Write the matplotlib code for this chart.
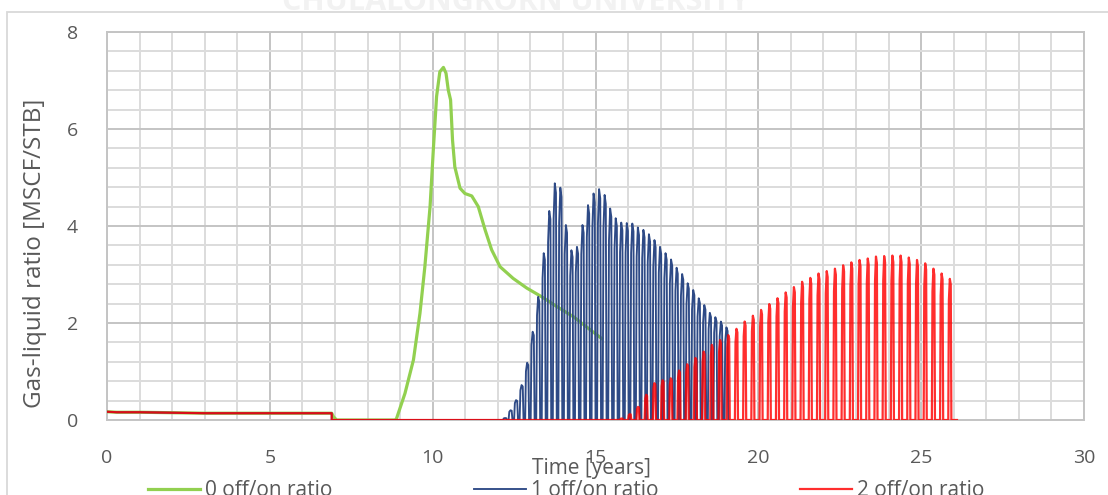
import numpy as np
import matplotlib.pyplot as plt
from matplotlib.patches import Rectangle
from matplotlib.ticker import MultipleLocator

plt.rcParams['font.family'] = ['Open Sans', 'DejaVu Sans']

# continuous production before cycling starts (same for all cases)
pre_t = [0.0, 0.3, 1.0, 2.0, 3.0, 4.0, 5.0, 6.0, 6.9]
pre_glr = [0.17, 0.16, 0.16, 0.15, 0.14, 0.14, 0.14, 0.14, 0.14]

# 0 off/on ratio (no shut-in)
cont_t = [6.95, 7.05, 8.85, 8.89, 9.15, 9.41, 9.61, 9.76, 9.92, 10.02, 10.12,
          10.22, 10.33, 10.41, 10.48, 10.55, 10.61, 10.68, 10.84, 10.99,
          11.20, 11.40, 11.61, 11.81, 12.07, 12.47, 12.89, 13.35, 13.81,
          14.32, 14.78, 15.19]
cont_glr = [0.07, 0.0, 0.0, 0.03, 0.55, 1.24, 2.20, 3.16, 4.40, 5.57, 6.67,
            7.18, 7.27, 7.15, 6.80, 6.60, 5.77, 5.22, 4.78, 4.67,
            4.62, 4.40, 3.92, 3.51, 3.16, 2.92, 2.72, 2.54, 2.34,
            2.13, 1.89, 1.68]

# 1 off/on ratio: peak GLR of every production cycle
r1_first = 12.22
r1_period = 0.17
r1_end = 19.1
r1_peaks = [0.04, 0.20, 0.41, 0.72, 1.18, 1.82, 2.54, 3.44, 4.31, 4.88,
            4.79, 4.02, 3.50, 3.57, 4.02, 4.43, 4.67, 4.76, 4.64, 4.36,
            4.16, 4.07, 4.06, 4.05, 3.97, 3.92, 3.83, 3.71, 3.57, 3.44,
            3.31, 3.14, 3.01, 2.82, 2.68, 2.51, 2.37, 2.21, 2.12, 2.03,
            1.91]

# 2 off/on ratio: peak GLR of every production cycle
r2_first = 15.80
r2_period = 0.252
r2_end = 26.1
r2_peaks = [0.03, 0.12, 0.27, 0.52, 0.76, 0.82, 0.86, 1.02, 1.15, 1.28,
            1.41, 1.55, 1.65, 1.75, 1.88, 2.03, 2.15, 2.27, 2.39, 2.51,
            2.63, 2.74, 2.85, 2.93, 3.02, 3.07, 3.12, 3.19, 3.25, 3.30,
            3.33, 3.37, 3.38, 3.39, 3.39, 3.35, 3.30, 3.23, 3.12, 3.02,
            2.91]

# shape of one production pulse (fraction of pulse width, fraction of peak)
pulse_frac = [0.0, 0.2, 0.5, 0.8, 1.0]
pulse_amp = [0.0, 0.85, 1.0, 0.96, 0.0]


def cycled_series(first, period, peaks, end, width):
    t = list(pre_t) + [pre_t[-1]]
    g = list(pre_glr) + [0.0]
    for i, p in enumerate(peaks):
        c = first + i * period
        for f, a in zip(pulse_frac, pulse_amp):
            t.append(c + (f - 0.5) * width)
            g.append(p * a)
    t.append(end)
    g.append(0.0)
    return t, g


t0 = pre_t + cont_t
g0 = pre_glr + cont_glr
t1, g1 = cycled_series(r1_first, r1_period, r1_peaks, r1_end, 0.12)
t2, g2 = cycled_series(r2_first, r2_period, r2_peaks, r2_end, 0.095)

fig = plt.figure(figsize=(11.08, 4.95), dpi=100)
ax = fig.add_axes([107 / 1108, 75 / 495, 977 / 1108, 388 / 495])

ax.plot(t0, g0, color='#92D050', lw=2.3, label='0 off/on ratio', zorder=3)
ax.plot(t1, g1, color='#2E4A86', lw=1.35, label='1 off/on ratio', zorder=4)
ax.plot(t2, g2, color='#FF0000', lw=1.6, alpha=0.82, label='2 off/on ratio', zorder=5)

ax.set_xlim(0, 30)
ax.set_ylim(0, 8)
ax.xaxis.set_major_locator(MultipleLocator(5))
ax.xaxis.set_minor_locator(MultipleLocator(1))
ax.yaxis.set_major_locator(MultipleLocator(2))
ax.yaxis.set_minor_locator(MultipleLocator(0.4))
ax.grid(which='minor', color='#DCDCDC', lw=1.4)
ax.grid(which='major', color='#C4C4C4', lw=1.4)
ax.set_axisbelow(True)
for s in ax.spines.values():
    s.set_color('#C4C4C4')
    s.set_linewidth(1.4)
ax.tick_params(which='both', length=0, pad=21, labelsize=14, labelcolor='#595959')

ax.set_xlabel('Time [years]', fontsize=15, color='#595959')
ax.xaxis.set_label_coords(0.496, -0.097)
ax.set_ylabel('Gas-liquid ratio [MSCF/STB]', fontsize=17.5, color='#595959')
ax.yaxis.set_label_coords(-0.061, 0.43)

fig.legend(loc='center left', bbox_to_anchor=(148 / 1108, 4 / 495), ncol=3,
           frameon=False, fontsize=15, handlelength=2.5, handletextpad=0.25,
           columnspacing=6.78, borderpad=0, borderaxespad=0, labelcolor='#595959')

# chart area outline and faint watermark
fig.add_artist(Rectangle((7 / 1108, -0.2), 1.2, 1.2 - 12 / 495,
                         transform=fig.transFigure, fill=False,
                         edgecolor='#D9D9D9', lw=1.3))
fig.text(0.465, 0.995, 'CHULALONGKORN UNIVERSITY', ha='center', va='center',
         fontsize=22, fontweight='bold', color='#F2F2F2', zorder=0)

fig.savefig('out.png', dpi=100)
